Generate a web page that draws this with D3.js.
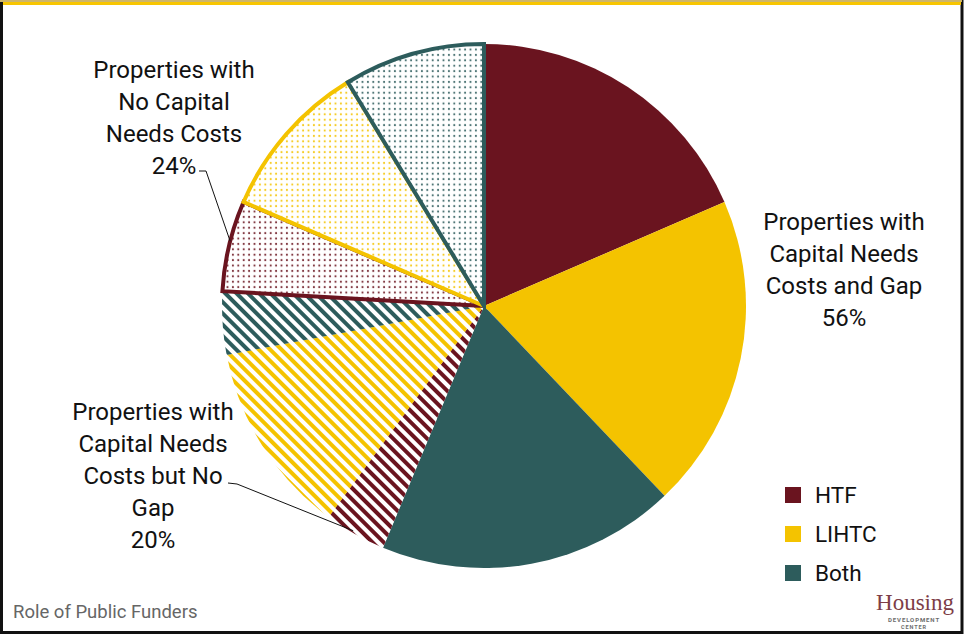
<!DOCTYPE html>
<html>
<head>
<meta charset="utf-8">
<script src="https://cdn.jsdelivr.net/npm/d3@7"></script>
<style>
  html, body { margin: 0; padding: 0; background: #fff; }
  svg { display: block; }
</style>
</head>
<body>
<svg id="chart" width="965" height="635"></svg>
<script>
// Slice shares (percent of properties), clockwise from 12 o'clock
const funders = ["HTF", "LIHTC", "Both"];
const groups = ["Costs and Gap", "Costs but No Gap", "No Capital Needs Costs"];
const gapShares = [18.5, 19.4, 18.4];
const noGapShares = [3.8, 11.9, 3.9];
const noNeedShares = [5.6, 9.8, 8.7];
const groupLabels = [
  ["Properties with", "Capital Needs", "Costs and Gap", "56%"],
  ["Properties with", "Capital Needs", "Costs but No", "Gap", "20%"],
  ["Properties with", "No Capital", "Needs Costs", "24%"]
];
const legendLabels = ["HTF", "LIHTC", "Both"];

const colors = { HTF: "#6a141f", LIHTC: "#f4c300", Both: "#2d5c5c" };

const slices = [];
[gapShares, noGapShares, noNeedShares].forEach((arr, g) => {
  arr.forEach((v, i) => slices.push({ group: g, funder: funders[i], value: v }));
});

const svg = d3.select("#chart");
const W = 965, H = 635;

// Frame and top rule
svg.append("rect").attr("x", 1.5).attr("y", 1.5).attr("width", W - 4.5).attr("height", H - 4)
  .attr("fill", "#fff").attr("stroke", "#111").attr("stroke-width", 3);
svg.append("rect").attr("x", 0).attr("y", 0).attr("width", W - 3).attr("height", 2).attr("fill", "#cdb56a");
svg.append("rect").attr("x", 3).attr("y", 2).attr("width", W - 7).attr("height", 3).attr("fill", "#f7c500");

// Fill patterns: diagonal stripes and fine dots
const defs = svg.append("defs");
funders.forEach(f => {
  const s = defs.append("pattern").attr("id", "stripe-" + f)
    .attr("patternUnits", "userSpaceOnUse").attr("width", 8).attr("height", 8)
    .attr("patternTransform", "rotate(-45)");
  s.append("rect").attr("width", 8).attr("height", 8).attr("fill", "#fff");
  s.append("rect").attr("x", 0).attr("width", 4).attr("height", 8).attr("fill", colors[f]);

  const d = defs.append("pattern").attr("id", "dot-" + f)
    .attr("patternUnits", "userSpaceOnUse").attr("width", 5.4).attr("height", 5.4);
  d.append("rect").attr("width", 5.4).attr("height", 5.4).attr("fill", "#fff");
  d.append("circle").attr("cx", 2.7).attr("cy", 2.7).attr("r", 1.05).attr("fill", colors[f]).attr("opacity", 0.85);
});

const cx = 484, cy = 306, R = 262;
const pie = d3.pie().value(d => d.value).sort(null).startAngle(0).endAngle(2 * Math.PI);
const arcs = pie(slices);
const arc = d3.arc().innerRadius(0).outerRadius(R);

const g = svg.append("g").attr("transform", `translate(${cx},${cy})`);
g.selectAll("path.slice").data(arcs).join("path")
  .attr("class", "slice")
  .attr("d", arc)
  .attr("fill", d => d.data.group === 0 ? colors[d.data.funder]
    : d.data.group === 1 ? `url(#stripe-${d.data.funder})` : `url(#dot-${d.data.funder})`)
  .attr("stroke", d => d.data.group === 2 ? colors[d.data.funder] : "none")
  .attr("stroke-width", 4)
  .attr("stroke-linejoin", "miter");

// Group labels
const labelFont = "Roboto, 'Liberation Sans', sans-serif";
const labelPos = [
  { x: 844, y: 230 },
  { x: 153, y: 420 },
  { x: 174, y: 78 }
];
groupLabels.forEach((lines, i) => {
  const t = svg.append("text").attr("text-anchor", "middle")
    .attr("font-family", labelFont).attr("font-size", 24).attr("fill", "#111");
  lines.forEach((ln, j) => {
    t.append("tspan").attr("x", labelPos[i].x).attr("y", labelPos[i].y + j * 32).text(ln);
  });
});

// Leader lines from labels to their slices
function edgePoint(angle, r) {
  return [cx + r * Math.sin(angle), cy - r * Math.cos(angle)];
}
const lineGen = d3.line();
const pNoGap = edgePoint(arcs[3].startAngle + (arcs[3].endAngle - arcs[3].startAngle) * 0.55, R - 2);
svg.append("path").attr("d", lineGen([[228, 483], [237, 484], pNoGap]))
  .attr("fill", "none").attr("stroke", "#111").attr("stroke-width", 1);
const pNoNeed = edgePoint(arcs[6].startAngle + (arcs[6].endAngle - arcs[6].startAngle) * 0.55, R);
svg.append("path").attr("d", lineGen([[199, 171], [206, 171], pNoNeed]))
  .attr("fill", "none").attr("stroke", "#111").attr("stroke-width", 1);

// Legend
const legend = svg.append("g");
legendLabels.forEach((name, i) => {
  const y = 487 + i * 39;
  legend.append("rect").attr("x", 785).attr("y", y).attr("width", 16).attr("height", 16).attr("fill", colors[name]);
  legend.append("text").attr("x", 815).attr("y", y + 16)
    .attr("font-family", labelFont).attr("font-size", 22.5).attr("fill", "#111").text(name);
});

// Footer caption
svg.append("text").attr("x", 13).attr("y", 618)
  .attr("font-family", labelFont).attr("font-size", 18.5).attr("fill", "#666")
  .text("Role of Public Funders");

// Organisation wordmark
const logo = svg.append("g");
logo.append("text").attr("x", 915).attr("y", 610).attr("text-anchor", "middle")
  .attr("font-family", "'Liberation Serif', 'DejaVu Serif', serif").attr("font-size", 23)
  .attr("fill", "#7d3d47").text("Housing");
logo.append("text").attr("x", 914).attr("y", 622).attr("text-anchor", "middle")
  .attr("font-family", labelFont).attr("font-size", 6).attr("font-weight", "bold")
  .attr("letter-spacing", 0.9).attr("fill", "#6d6d6d").text("DEVELOPMENT");
logo.append("text").attr("x", 914).attr("y", 629).attr("text-anchor", "middle")
  .attr("font-family", labelFont).attr("font-size", 5.5).attr("font-weight", "bold")
  .attr("letter-spacing", 0.9).attr("fill", "#6d6d6d").text("CENTER");
</script>
</body>
</html>
